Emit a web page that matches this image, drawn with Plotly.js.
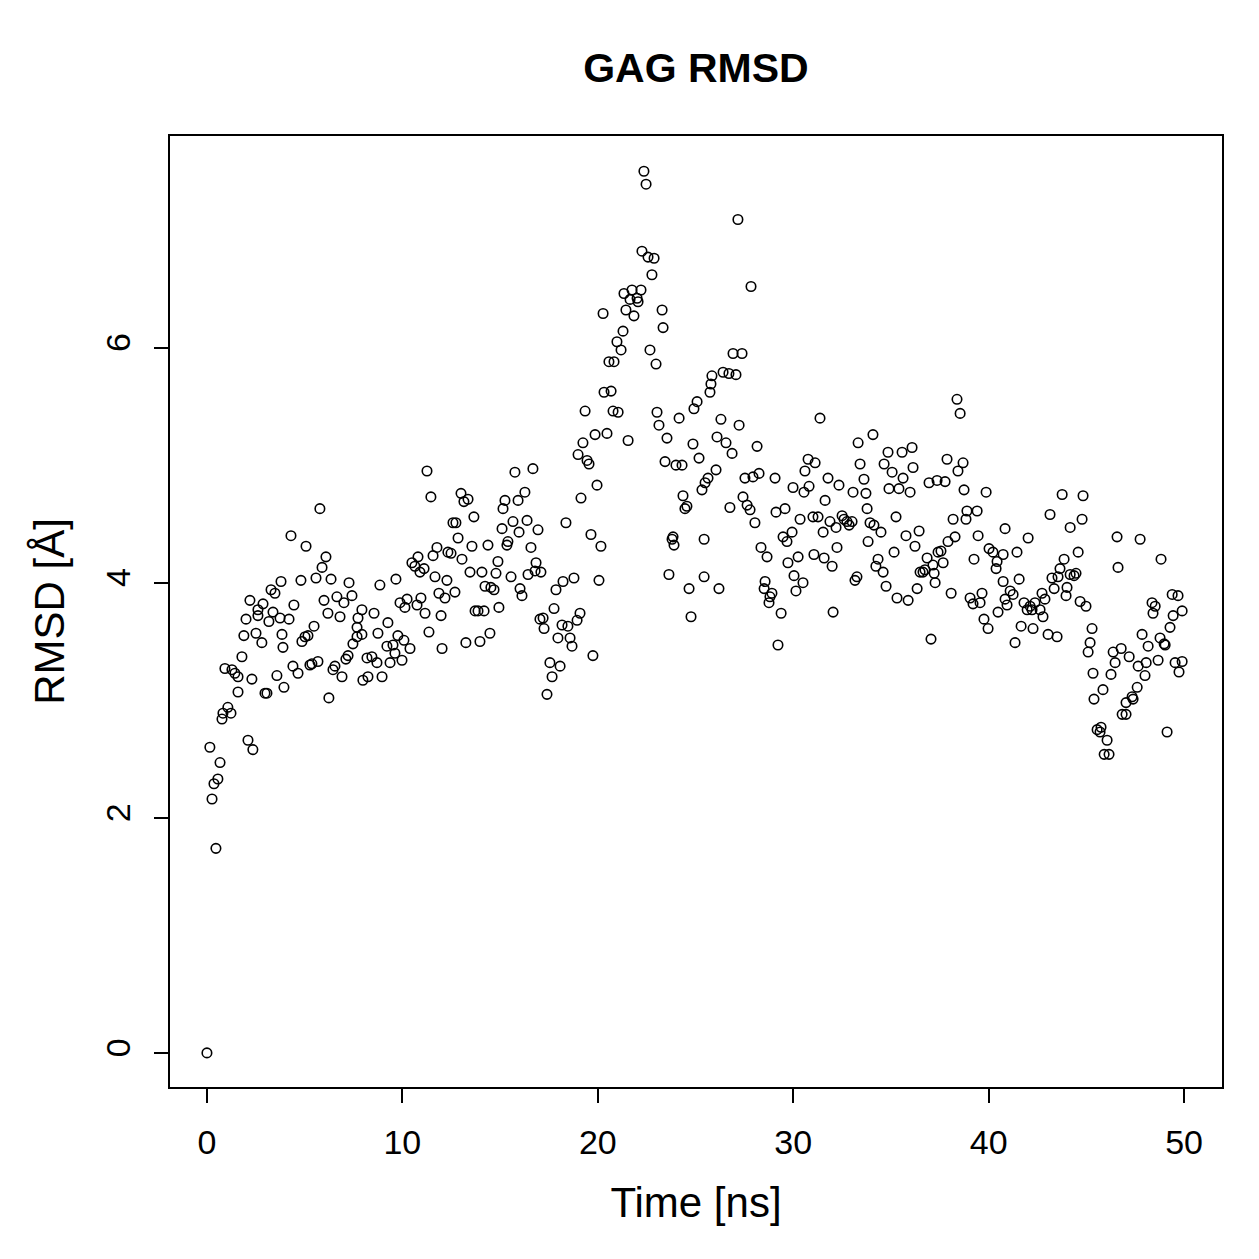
<!DOCTYPE html>
<html>
<head>
<meta charset="utf-8">
<script src="https://cdn.plot.ly/plotly-3.0.1.min.js"></script>
<style>
  html, body { margin: 0; padding: 0; background: #ffffff; }
  #plot { width: 1259px; height: 1259px; }
</style>
</head>
<body>
<div id="plot"></div>
<script>
// Simulation time (ns)
const time = [
  0.00, 0.15, 0.26, 0.36, 0.46, 0.56, 0.67, 0.77, 0.82, 0.92,
  1.07, 1.23, 1.28, 1.43, 1.59, 1.59, 1.79, 1.89, 2.00, 2.10,
  2.20, 2.30, 2.35, 2.51, 2.61, 2.61, 2.81, 2.87, 2.97, 3.07,
  3.17, 3.28, 3.38, 3.48, 3.58, 3.74, 3.79, 3.84, 3.89, 3.94,
  4.20, 4.30, 4.40, 4.45, 4.66, 4.81, 4.86, 5.02, 5.07, 5.17,
  5.27, 5.37, 5.48, 5.58, 5.68, 5.78, 5.89, 5.99, 6.09, 6.19,
  6.24, 6.35, 6.45, 6.55, 6.65, 6.81, 6.91, 7.01, 7.11, 7.22,
  7.27, 7.42, 7.47, 7.68, 7.68, 7.73, 7.93, 7.93, 7.98, 8.19,
  8.24, 8.44, 8.55, 8.70, 8.75, 8.85, 8.96, 9.21, 9.26, 9.37,
  9.52, 9.62, 9.67, 9.77, 9.88, 9.98, 10.08, 10.13, 10.24, 10.39,
  10.49, 10.64, 10.75, 10.80, 10.90, 10.95, 11.11, 11.16, 11.26, 11.36,
  11.46, 11.57, 11.67, 11.77, 11.87, 11.98, 12.03, 12.18, 12.28, 12.33,
  12.49, 12.59, 12.69, 12.74, 12.85, 13.00, 13.05, 13.15, 13.25, 13.36,
  13.46, 13.56, 13.66, 13.72, 13.87, 13.97, 14.07, 14.18, 14.23, 14.38,
  14.48, 14.53, 14.69, 14.79, 14.89, 14.94, 15.10, 15.15, 15.25, 15.35,
  15.40, 15.56, 15.66, 15.76, 15.92, 15.97, 16.02, 16.12, 16.27, 16.38,
  16.43, 16.58, 16.68, 16.79, 16.84, 16.94, 17.04, 17.09, 17.20, 17.25,
  17.40, 17.55, 17.66, 17.76, 17.86, 17.96, 18.07, 18.17, 18.22, 18.37,
  18.47, 18.58, 18.68, 18.78, 18.94, 18.99, 19.09, 19.14, 19.24, 19.35,
  19.45, 19.55, 19.65, 19.75, 19.86, 19.96, 20.06, 20.16, 20.27, 20.32,
  20.47, 20.57, 20.68, 20.78, 20.83, 20.98, 21.04, 21.19, 21.29, 21.34,
  21.44, 21.55, 21.65, 21.75, 21.85, 22.01, 22.06, 22.21, 22.26, 22.36,
  22.47, 22.57, 22.67, 22.77, 22.88, 22.98, 23.03, 23.13, 23.29, 23.34,
  23.44, 23.54, 23.64, 23.80, 23.85, 23.90, 24.00, 24.16, 24.31, 24.36,
  24.46, 24.56, 24.67, 24.77, 24.87, 24.92, 25.08, 25.18, 25.33, 25.44,
  25.44, 25.49, 25.64, 25.74, 25.79, 25.84, 26.05, 26.10, 26.20, 26.30,
  26.41, 26.56, 26.71, 26.76, 26.87, 26.92, 27.07, 27.17, 27.23, 27.38,
  27.43, 27.53, 27.64, 27.79, 27.84, 27.94, 28.04, 28.15, 28.25, 28.35,
  28.51, 28.56, 28.66, 28.76, 28.81, 28.91, 29.07, 29.12, 29.22, 29.38,
  29.48, 29.58, 29.68, 29.73, 29.94, 29.99, 30.04, 30.14, 30.25, 30.35,
  30.50, 30.55, 30.60, 30.76, 30.81, 31.01, 31.06, 31.12, 31.27, 31.37,
  31.53, 31.58, 31.63, 31.78, 31.88, 31.99, 32.04, 32.19, 32.24, 32.34,
  32.50, 32.60, 32.75, 32.86, 33.01, 33.06, 33.16, 33.26, 33.32, 33.42,
  33.62, 33.72, 33.78, 33.83, 33.93, 34.08, 34.13, 34.23, 34.34, 34.49,
  34.60, 34.65, 34.75, 34.85, 34.90, 35.06, 35.16, 35.26, 35.31, 35.41,
  35.57, 35.62, 35.77, 35.88, 35.98, 36.08, 36.13, 36.23, 36.34, 36.44,
  36.49, 36.64, 36.74, 36.85, 36.95, 37.05, 37.15, 37.21, 37.26, 37.36,
  37.41, 37.56, 37.67, 37.77, 37.87, 37.92, 38.08, 38.18, 38.28, 38.38,
  38.43, 38.54, 38.69, 38.74, 38.84, 38.89, 39.05, 39.20, 39.25, 39.41,
  39.46, 39.56, 39.66, 39.76, 39.87, 39.97, 40.02, 40.22, 40.38, 40.43,
  40.48, 40.74, 40.74, 40.84, 40.84, 40.94, 41.10, 41.25, 41.35, 41.45,
  41.56, 41.66, 41.81, 41.97, 42.02, 42.12, 42.22, 42.27, 42.37, 42.63,
  42.73, 42.78, 42.88, 43.04, 43.14, 43.24, 43.35, 43.50, 43.55, 43.65,
  43.76, 43.86, 43.96, 44.01, 44.17, 44.17, 44.37, 44.47, 44.58, 44.68,
  44.78, 44.83, 44.98, 45.09, 45.19, 45.29, 45.34, 45.39, 45.55, 45.70,
  45.75, 45.85, 45.91, 46.06, 46.16, 46.26, 46.37, 46.47, 46.57, 46.62,
  46.78, 46.83, 47.03, 47.03, 47.19, 47.34, 47.39, 47.60, 47.65, 47.75,
  47.85, 48.00, 48.06, 48.16, 48.36, 48.41, 48.52, 48.67, 48.77, 48.82,
  48.98, 49.03, 49.13, 49.28, 49.39, 49.44, 49.54, 49.69, 49.74, 49.90,
  49.90
];

// RMSD of the GAG chain (Å)
const rmsd = [
  0.00, 2.60, 2.16, 2.29, 1.74, 2.33, 2.47, 2.84, 2.89, 3.27,
  2.94, 2.89, 3.26, 3.23, 3.20, 3.07, 3.37, 3.55, 3.69, 2.66,
  3.85, 3.18, 2.58, 3.57, 3.72, 3.77, 3.49, 3.82, 3.06, 3.06,
  3.67, 3.94, 3.75, 3.91, 3.21, 3.70, 4.01, 3.56, 3.45, 3.11,
  3.69, 4.40, 3.29, 3.81, 3.23, 4.02, 3.50, 3.54, 4.31, 3.55,
  3.30, 3.31, 3.63, 4.04, 3.33, 4.63, 4.13, 3.85, 4.22, 3.74,
  3.02, 4.03, 3.26, 3.29, 3.88, 3.71, 3.20, 3.83, 3.35, 3.38,
  4.00, 3.89, 3.48, 3.54, 3.62, 3.70, 3.77, 3.56, 3.17, 3.36,
  3.20, 3.37, 3.74, 3.32, 3.57, 3.98, 3.20, 3.46, 3.66, 3.32,
  3.47, 3.40, 4.03, 3.55, 3.83, 3.34, 3.51, 3.79, 3.86, 3.44,
  4.17, 4.14, 3.81, 4.22, 4.09, 3.87, 4.12, 3.74, 4.95, 3.58,
  4.73, 4.23, 4.05, 4.30, 3.91, 3.72, 3.44, 3.87, 4.02, 4.26,
  4.25, 4.51, 3.92, 4.51, 4.38, 4.76, 4.20, 4.69, 3.49, 4.71,
  4.09, 4.31, 4.56, 3.76, 3.76, 3.50, 4.09, 3.76, 3.97, 4.32,
  3.57, 3.96, 3.94, 4.08, 4.18, 3.79, 4.46, 4.63, 4.70, 4.32,
  4.35, 4.05, 4.52, 4.94, 4.70, 4.43, 3.95, 3.89, 4.77, 4.53,
  4.07, 4.30, 4.97, 4.10, 4.17, 4.45, 3.69, 4.09, 3.70, 3.61,
  3.05, 3.32, 3.20, 3.78, 3.94, 3.53, 3.29, 3.64, 4.01, 4.51,
  3.63, 3.53, 3.46, 4.04, 3.68, 5.09, 3.74, 4.72, 5.19, 5.46,
  5.04, 5.01, 4.41, 3.38, 5.26, 4.83, 4.02, 4.31, 6.29, 5.62,
  5.27, 5.88, 5.63, 5.46, 5.88, 6.05, 5.45, 5.98, 6.14, 6.46,
  6.32, 5.21, 6.41, 6.49, 6.27, 6.42, 6.39, 6.49, 6.82, 7.50,
  7.39, 6.77, 5.98, 6.62, 6.76, 5.86, 5.45, 5.34, 6.32, 6.17,
  5.03, 5.23, 4.07, 4.37, 4.39, 4.32, 5.00, 5.40, 5.00, 4.74,
  4.63, 4.65, 3.95, 3.71, 5.18, 5.48, 5.54, 5.06, 4.79, 4.37,
  4.05, 4.85, 4.89, 5.62, 5.69, 5.76, 4.96, 5.24, 3.95, 5.39,
  5.79, 5.19, 5.78, 4.64, 5.10, 5.95, 5.77, 7.09, 5.34, 5.95,
  4.73, 4.89, 4.66, 4.62, 6.52, 4.90, 4.51, 5.16, 4.93, 4.30,
  3.95, 4.01, 4.22, 3.83, 3.88, 3.91, 4.89, 4.60, 3.47, 3.74,
  4.39, 4.63, 4.35, 4.17, 4.43, 4.81, 4.06, 3.93, 4.22, 4.54,
  4.00, 4.77, 4.95, 5.05, 4.82, 4.56, 4.24, 5.02, 4.56, 5.40,
  4.43, 4.21, 4.70, 4.89, 4.52, 4.14, 3.75, 4.47, 4.30, 4.83,
  4.57, 4.54, 4.52, 4.49, 4.52, 4.77, 4.02, 4.05, 5.19, 5.01,
  4.88, 4.76, 4.63, 4.35, 4.51, 5.26, 4.49, 4.14, 4.20, 4.43,
  4.09, 5.01, 3.97, 5.11, 4.80, 4.94, 4.26, 4.56, 3.87, 4.80,
  5.11, 4.89, 4.40, 3.85, 4.77, 5.15, 4.98, 4.31, 3.95, 4.44,
  4.09, 4.09, 4.11, 4.21, 4.85, 3.52, 4.15, 4.08, 4.00, 4.87,
  4.26, 4.27, 4.17, 4.86, 5.05, 4.35, 3.91, 4.54, 4.39, 5.56,
  4.95, 5.44, 5.02, 4.79, 4.54, 4.61, 3.87, 3.82, 4.20, 4.61,
  4.40, 3.83, 3.91, 3.69, 4.77, 3.61, 4.29, 4.26, 4.12, 4.18,
  3.75, 4.24, 4.01, 4.46, 3.86, 3.81, 3.93, 3.90, 3.49, 4.26,
  4.03, 3.63, 3.83, 3.77, 4.38, 3.80, 3.77, 3.61, 3.83, 3.77,
  3.91, 3.71, 3.86, 3.56, 4.58, 4.04, 3.95, 3.54, 4.05, 4.12,
  4.75, 4.20, 3.89, 3.96, 4.47, 4.07, 4.06, 4.08, 4.26, 3.84,
  4.54, 4.74, 3.80, 3.41, 3.49, 3.61, 3.23, 3.01, 2.75, 2.73,
  2.77, 3.09, 2.54, 2.66, 2.54, 3.22, 3.41, 3.32, 4.39, 4.13,
  3.44, 2.88, 2.88, 2.98, 3.37, 3.03, 3.01, 3.11, 3.29, 4.37,
  3.56, 3.21, 3.32, 3.46, 3.83, 3.74, 3.80, 3.34, 3.53, 4.20,
  3.48, 3.47, 2.73, 3.62, 3.90, 3.72, 3.32, 3.89, 3.24, 3.76,
  3.33
];

const xTicks = [0, 10, 20, 30, 40, 50];
const yTicks = [0, 2, 4, 6];

const font = 'Liberation Sans, Arial, Helvetica, sans-serif';

const trace = {
  x: time,
  y: rmsd,
  type: 'scatter',
  mode: 'markers',
  marker: {
    symbol: 'circle-open',
    size: 9.5,
    color: '#000000',
    line: { width: 1.6, color: '#000000' }
  },
  hoverinfo: 'x+y'
};

const axisCommon = {
  showgrid: false,
  zeroline: false,
  showline: true,
  mirror: true,
  linecolor: '#000000',
  linewidth: 2,
  ticks: 'outside',
  ticklen: 14,
  tickwidth: 2,
  tickcolor: '#000000',
  tickfont: { family: font, size: 34, color: '#000000' }
};

const layout = {
  width: 1259,
  height: 1259,
  paper_bgcolor: '#ffffff',
  plot_bgcolor: '#ffffff',
  showlegend: false,
  margin: { l: 170, r: 37, t: 136, b: 172, pad: 0 },
  title: {
    text: '<b>GAG RMSD</b>',
    font: { family: font, size: 41, color: '#000000' },
    x: 0.5528,
    xanchor: 'center',
    y: 0.946,
    yanchor: 'middle'
  },
  xaxis: Object.assign({}, axisCommon, {
    range: [-1.89, 51.94],
    tickmode: 'array',
    tickvals: xTicks,
    ticktext: xTicks.map(String),
    ticklabelstandoff: 10,
    title: {
      text: 'Time [ns]',
      font: { family: font, size: 42, color: '#000000' },
      standoff: 28
    }
  }),
  yaxis: Object.assign({}, axisCommon, {
    range: [-0.29, 7.80],
    tickmode: 'array',
    tickvals: yTicks,
    ticktext: yTicks.map(String),
    tickangle: -90,
    ticklabelstandoff: 10,
    title: {
      text: 'RMSD [Å]',
      font: { family: font, size: 42, color: '#000000' },
      standoff: 22
    }
  })
};

Plotly.newPlot('plot', [trace], layout, { displayModeBar: false, staticPlot: true });
</script>
</body>
</html>
